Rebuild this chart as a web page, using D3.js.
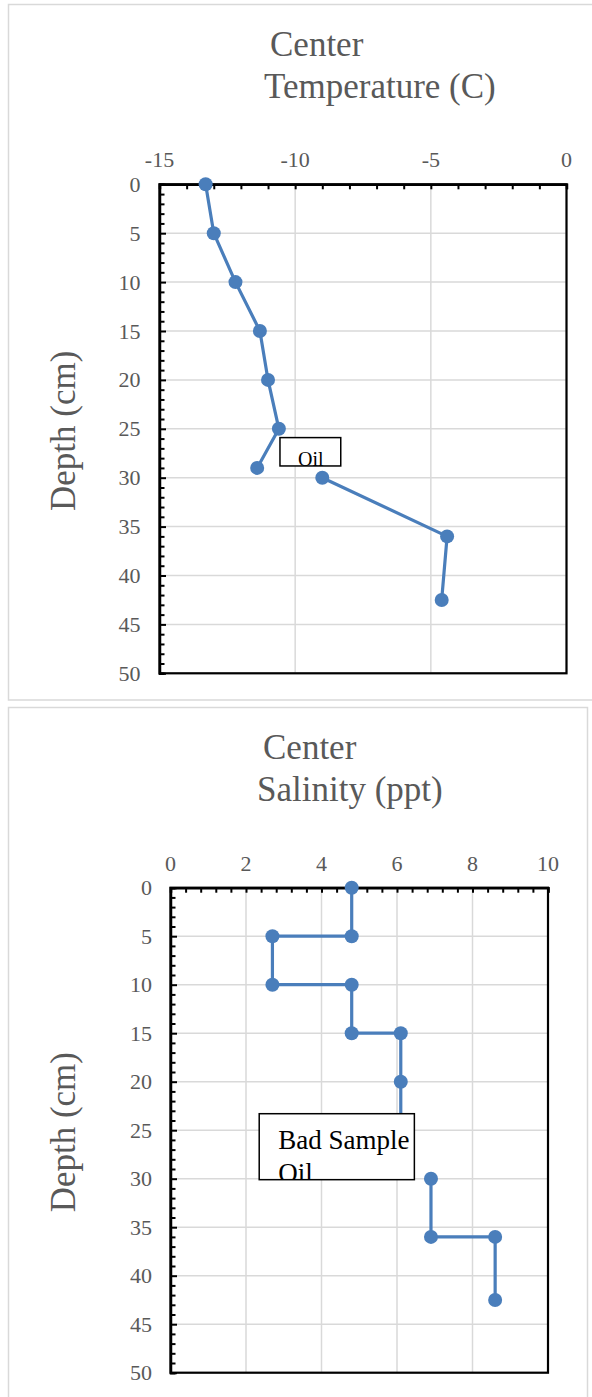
<!DOCTYPE html>
<html>
<head>
<meta charset="utf-8">
<script src="https://cdn.jsdelivr.net/npm/d3@7"></script>
<style>
  html, body { margin: 0; padding: 0; background: #fff; }
  svg { display: block; }
  text { font-family: "Liberation Serif", "Times New Roman", serif; }
</style>
</head>
<body>
<script>
// ---------- DATA ----------
// Temperature chart
const tempDepth   = [0, 5, 10, 15, 20, 25, 29, 30, 36, 42.5];
const tempValue   = [-13.3, -13.0, -12.2, -11.3, -11.0, -10.6, -11.4, -9.0, -4.4, -4.6];
const tempSegment = [0, 0, 0, 0, 0, 0, 0, 1, 1, 1];
const tempTicks   = [-15, -10, -5, 0];

// Salinity chart (step profile)
const salDepth   = [0, 5, 5, 10, 10, 15, 15, 20, 25, 30, 36, 36, 42.5];
const salValue   = [4.8, 4.8, 2.7, 2.7, 4.8, 4.8, 6.1, 6.1, 6.1, 6.9, 6.9, 8.6, 8.6];
const salSegment = [0, 0, 0, 0, 0, 0, 0, 0, 0, 1, 1, 1, 1];
const salTicks   = [0, 2, 4, 6, 8, 10];

const depthTicks = [0, 5, 10, 15, 20, 25, 30, 35, 40, 45, 50];

const titles = [["Center", "Temperature (C)"], ["Center", "Salinity (ppt)"]];
const axisTitle = "Depth (cm)";

// annotations (in data units)
const tempNote = { lines: ["Oil"], x0: -10.56, x1: -8.32, d0: 25.9, d1: 28.8 };
const salNote  = { lines: ["Bad Sample", "Oil"], x0: 2.35, x1: 6.46, d0: 23.3, d1: 30.1 };

// ---------- DRAW ----------
const W = 592, H = 1397;
const svg = d3.select("body").append("svg").attr("width", W).attr("height", H);

const BLUE = "#4a7ebb", GRID = "#d9d9d9", LABEL = "#595959";

function drawChart(cfg) {
  const g = svg.append("g");
  // outer frame
  g.append("rect").attr("x", cfg.frame[0]).attr("y", cfg.frame[1])
    .attr("width", cfg.frame[2]).attr("height", cfg.frame[3])
    .attr("fill", "#fff").attr("stroke", GRID).attr("stroke-width", 1.5);

  const x = d3.scaleLinear().domain(cfg.xDomain).range([cfg.left, cfg.right]);
  const y = d3.scaleLinear().domain([0, 50]).range([cfg.top, cfg.bottom]);

  // titles
  g.append("text").attr("x", cfg.t1x).attr("y", cfg.t1y).attr("fill", LABEL)
    .attr("font-size", 35).text(cfg.title[0]);
  g.append("text").attr("x", cfg.t2x).attr("y", cfg.t2y).attr("fill", LABEL)
    .attr("font-size", 35).text(cfg.title[1]);

  // gridlines
  g.append("g").selectAll("line").data(cfg.xTicks).join("line")
    .attr("x1", d => x(d)).attr("x2", d => x(d))
    .attr("y1", cfg.top).attr("y2", cfg.bottom)
    .attr("stroke", GRID).attr("stroke-width", 1.5);
  g.append("g").selectAll("line").data(depthTicks).join("line")
    .attr("x1", cfg.left).attr("x2", cfg.right)
    .attr("y1", d => y(d)).attr("y2", d => y(d))
    .attr("stroke", GRID).attr("stroke-width", 1.5);

  // plot border
  g.append("rect").attr("x", cfg.left).attr("y", cfg.top)
    .attr("width", cfg.right - cfg.left).attr("height", cfg.bottom - cfg.top)
    .attr("fill", "none").attr("stroke", "#000").attr("stroke-width", 2.2);

  // top axis (ticks inside, pointing down)
  const xAxis = d3.axisBottom(x).tickValues(d3.range(cfg.xDomain[0], cfg.xDomain[1] + 1e-9, cfg.xMinor))
    .tickSize(5).tickFormat("");
  const gx = g.append("g").attr("transform", `translate(0,${cfg.top})`).call(xAxis);
  gx.select(".domain").attr("stroke", "#000").attr("stroke-width", 2.5);
  gx.selectAll(".tick line").attr("stroke", "#000").attr("stroke-width", 2);

  g.append("g").selectAll("text").data(cfg.xTicks).join("text")
    .attr("x", d => x(d)).attr("y", cfg.top - 17)
    .attr("text-anchor", "middle").attr("font-size", 22).attr("fill", LABEL)
    .text(d => d3.format("")(d).replace("−", "-"));

  // left axis (ticks inside, pointing right)
  const yAxis = d3.axisRight(y).tickValues(d3.range(0, 50.001, 1))
    .tickSize(5).tickFormat("");
  const gy = g.append("g").attr("transform", `translate(${cfg.left},0)`).call(yAxis);
  gy.select(".domain").attr("stroke", "#000").attr("stroke-width", 2.5);
  gy.selectAll(".tick line").attr("stroke", "#000").attr("stroke-width", 2)
    .attr("x2", d => d % 5 === 0 ? 6.5 : 5);

  g.append("g").selectAll("text").data(depthTicks).join("text")
    .attr("x", cfg.left - cfg.ylPad).attr("y", d => y(d) + 7.5)
    .attr("text-anchor", "end").attr("font-size", 22).attr("fill", LABEL)
    .text(d => d);

  // y axis title
  g.append("text")
    .attr("transform", `translate(${cfg.ylx},${(cfg.top + cfg.bottom) / 2 + 2}) rotate(-90)`)
    .attr("text-anchor", "middle").attr("font-size", 35).attr("fill", LABEL)
    .text(axisTitle);

  // series
  const pts = cfg.depth.map((d, i) => ({ d, v: cfg.value[i], s: cfg.seg[i] }));
  const groups = d3.groups(pts, p => p.s);
  const line = d3.line().x(p => x(p.v)).y(p => y(p.d));
  g.append("g").selectAll("path").data(groups).join("path")
    .attr("d", gr => line(gr[1]))
    .attr("fill", "none").attr("stroke", BLUE).attr("stroke-width", 3.2)
    .attr("stroke-linejoin", "round");
  g.append("g").selectAll("circle").data(pts).join("circle")
    .attr("cx", p => x(p.v)).attr("cy", p => y(p.d)).attr("r", 7)
    .attr("fill", BLUE);

  // annotation box
  const n = cfg.note;
  const bx = x(n.x0), by = y(n.d0), bw = x(n.x1) - x(n.x0), bh = y(n.d1) - y(n.d0);
  const clipId = "clip" + cfg.id;
  svg.append("clipPath").attr("id", clipId).append("rect")
    .attr("x", bx).attr("y", by).attr("width", bw).attr("height", bh);
  g.append("rect").attr("x", bx).attr("y", by).attr("width", bw).attr("height", bh)
    .attr("fill", "#fff");
  g.append("g").attr("clip-path", `url(#${clipId})`).selectAll("text").data(n.lines).join("text")
    .attr("x", bx + cfg.notePad).attr("y", (d, i) => by + cfg.noteBase + i * cfg.noteLH)
    .attr("font-size", cfg.noteFont).attr("fill", "#000").text(d => d);
  g.append("rect").attr("x", bx).attr("y", by).attr("width", bw).attr("height", bh)
    .attr("fill", "none").attr("stroke", "#000").attr("stroke-width", 1.5);
}

drawChart({
  id: 1, frame: [8.5, 4.5, 600, 695.5],
  xDomain: [-15, 0], xTicks: tempTicks, xMinor: 1,
  left: 159.5, right: 566.5, top: 184.3, bottom: 673.3, ylPad: 19,
  title: titles[0], t1x: 270, t1y: 56, t2x: 264, t2y: 98, ylx: 75,
  depth: tempDepth, value: tempValue, seg: tempSegment,
  note: tempNote, notePad: 18, noteBase: 28, noteLH: 20, noteFont: 20
});

drawChart({
  id: 2, frame: [8.5, 707.5, 579, 700],
  xDomain: [0, 10], xTicks: salTicks, xMinor: 0.4,
  left: 170.5, right: 548, top: 887.7, bottom: 1372.7, ylPad: 18.5,
  title: titles[1], t1x: 263, t1y: 759, t2x: 257, t2y: 801, ylx: 75,
  depth: salDepth, value: salValue, seg: salSegment,
  note: salNote, notePad: 19, noteBase: 35, noteLH: 33, noteFont: 27
});
</script>
</body>
</html>
